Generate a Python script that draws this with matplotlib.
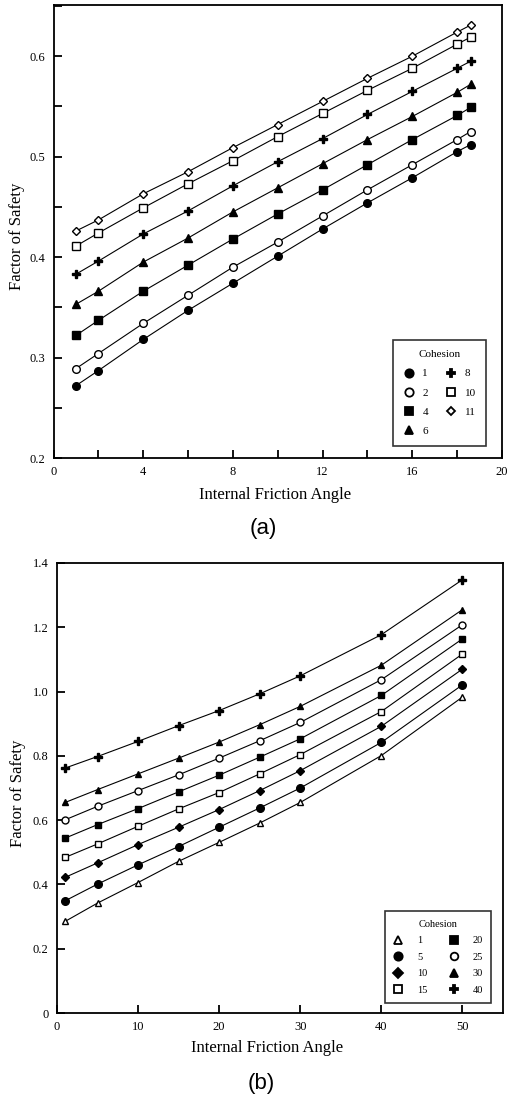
import matplotlib
matplotlib.use("Agg")
import matplotlib.pyplot as plt
from matplotlib.lines import Line2D
from matplotlib.ticker import MultipleLocator, FixedLocator, FixedFormatter

# ---------------- data: panel (a) ----------------
angle_a = [1, 2, 4, 6, 8, 10, 12, 14, 16, 18, 18.6]
cohesion_a = ["1", "2", "4", "6", "8", "10", "11"]
fs_a_c1 = [0.272, 0.287, 0.318, 0.347, 0.374, 0.401, 0.428, 0.454, 0.479, 0.505, 0.512]
fs_a_c2 = [0.289, 0.304, 0.334, 0.362, 0.390, 0.415, 0.441, 0.467, 0.492, 0.517, 0.525]
fs_a_c4 = [0.322, 0.337, 0.366, 0.392, 0.418, 0.443, 0.467, 0.492, 0.517, 0.541, 0.549]
fs_a_c6 = [0.353, 0.366, 0.395, 0.419, 0.445, 0.469, 0.493, 0.517, 0.540, 0.564, 0.572]
fs_a_c8 = [0.383, 0.396, 0.423, 0.446, 0.471, 0.495, 0.518, 0.542, 0.565, 0.588, 0.595]
fs_a_c10 = [0.411, 0.424, 0.449, 0.473, 0.496, 0.520, 0.543, 0.566, 0.588, 0.612, 0.619]
fs_a_c11 = [0.426, 0.437, 0.463, 0.485, 0.509, 0.532, 0.555, 0.578, 0.600, 0.624, 0.631]
series_a = [fs_a_c1, fs_a_c2, fs_a_c4, fs_a_c6, fs_a_c8, fs_a_c10, fs_a_c11]
xticks_a = [0, 4, 8, 12, 16, 20]
yticks_a = [0.2, 0.3, 0.4, 0.5, 0.6]

# ---------------- data: panel (b) ----------------
angle_b = [1, 5, 10, 15, 20, 25, 30, 40, 50]
cohesion_b = ["1", "5", "10", "15", "20", "25", "30", "40"]
fs_b_c1 = [0.285, 0.342, 0.406, 0.472, 0.531, 0.591, 0.655, 0.801, 0.983]
fs_b_c5 = [0.349, 0.401, 0.461, 0.518, 0.578, 0.638, 0.700, 0.842, 1.021]
fs_b_c10 = [0.422, 0.467, 0.524, 0.578, 0.633, 0.692, 0.754, 0.892, 1.070]
fs_b_c15 = [0.484, 0.526, 0.581, 0.635, 0.686, 0.744, 0.804, 0.938, 1.117]
fs_b_c20 = [0.544, 0.586, 0.636, 0.688, 0.740, 0.796, 0.853, 0.988, 1.164]
fs_b_c25 = [0.601, 0.643, 0.692, 0.741, 0.793, 0.847, 0.904, 1.037, 1.208]
fs_b_c30 = [0.655, 0.695, 0.744, 0.793, 0.843, 0.897, 0.954, 1.082, 1.255]
fs_b_c40 = [0.762, 0.798, 0.845, 0.894, 0.941, 0.993, 1.049, 1.177, 1.348]
series_b = [fs_b_c1, fs_b_c5, fs_b_c10, fs_b_c15, fs_b_c20, fs_b_c25, fs_b_c30, fs_b_c40]
xticks_b = [0, 10, 20, 30, 40, 50]
yticks_b = [0, 0.2, 0.4, 0.6, 0.8, 1.0, 1.2, 1.4]
yticklabels_b = ["0", "0.2", "0.4", "0.6", "0.8", "1.0", "1.2", "1.4"]

# ---------------- styles ----------------
# (marker, filled, size)
styles_a = [("o", True, 5.5), ("o", False, 5.5), ("s", True, 5.5), ("^", True, 5.5),
            ("P", True, 5.5), ("s", False, 5.5), ("D", False, 4.0)]
styles_b = [("^", False, 5.0), ("o", True, 5.5), ("D", True, 4.5), ("s", False, 5.0),
            ("s", True, 5.0), ("o", False, 5.0), ("^", True, 5.0), ("P", True, 5.5)]

plt.rcParams["font.family"] = ["Liberation Serif", "DejaVu Serif"]

W, H = 507, 1102
fig = plt.figure(figsize=(W / 100, H / 100), dpi=100)


def px_axes(left, top, right, bottom):
    return fig.add_axes([left / W, 1 - bottom / H, (right - left) / W, (bottom - top) / H])


def style_axes(ax):
    for sp in ax.spines.values():
        sp.set_linewidth(1.3)
        sp.set_color("black")
    ax.tick_params(direction="in", length=6, width=1.3, labelsize=9,
                   top=False, right=False, pad=6)


def draw_series(ax, x, series, styles, labels):
    handles = []
    for ys, (m, filled, ms), lab in zip(series, styles, labels):
        fc = "black" if filled else "white"
        ax.plot(x, ys, color="black", lw=0.8, marker=m, markersize=ms,
                markerfacecolor=fc, markeredgecolor="black", markeredgewidth=1.0,
                zorder=3)
        handles.append(Line2D([], [], linestyle="None", marker=m, markersize=ms + 0.5,
                              markerfacecolor=fc, markeredgecolor="black",
                              markeredgewidth=1.3, label=lab))
    return handles


# ---------------- panel (a) ----------------
ax1 = px_axes(53.5, 5, 502, 458)
h1 = draw_series(ax1, angle_a, series_a, styles_a, cohesion_a)
ax1.set_xlim(0, 20)
ax1.set_ylim(0.2, 0.651)
ax1.xaxis.set_major_locator(FixedLocator(xticks_a))
ax1.xaxis.set_minor_locator(MultipleLocator(2))
ax1.yaxis.set_major_locator(FixedLocator(yticks_a))
ax1.yaxis.set_minor_locator(MultipleLocator(0.05))
ax1.yaxis.set_major_formatter(FixedFormatter([f"{v:.1f}" for v in yticks_a]))
style_axes(ax1)
ax1.tick_params(which="minor", direction="in", length=6, width=1.3, top=False, right=False)
leg1 = ax1.legend(handles=h1, title="Cohesion", ncol=2, loc="lower right",
                  bbox_to_anchor=(0.976, 0.014), frameon=True, fancybox=False,
                  fontsize=8, title_fontsize=8, handlelength=1.0,
                  handletextpad=0.7, columnspacing=1.6, labelspacing=0.85,
                  borderpad=0.9, edgecolor="black")
leg1.get_frame().set_linewidth(1.2)

fig.text(17 / W, 1 - 236 / H, "Factor of Safety", rotation=90, ha="center", va="center",
         fontsize=12)
fig.text(275 / W, 1 - 495 / H, "Internal Friction Angle", ha="center", va="center",
         fontsize=12)
fig.text(263 / W, 1 - 528 / H, "(a)", ha="center", va="center", fontsize=16,
         family=["Liberation Sans", "DejaVu Sans"])

# ---------------- panel (b) ----------------
ax2 = px_axes(57, 563, 503, 1013)
h2 = draw_series(ax2, angle_b, series_b, styles_b, cohesion_b)
ax2.set_xlim(0, 55)
ax2.set_ylim(0, 1.4)
ax2.xaxis.set_major_locator(FixedLocator(xticks_b))
ax2.yaxis.set_major_locator(FixedLocator(yticks_b))
ax2.yaxis.set_major_formatter(FixedFormatter(yticklabels_b))
style_axes(ax2)
leg2 = ax2.legend(handles=h2, title="Cohesion", ncol=2, loc="lower right",
                  bbox_to_anchor=(0.985, 0.01), frameon=True, fancybox=False,
                  fontsize=7.5, title_fontsize=7.5, handlelength=1.0,
                  handletextpad=1.3, columnspacing=2.0, labelspacing=0.7,
                  borderpad=0.8, edgecolor="black")
leg2.get_frame().set_linewidth(1.2)

fig.text(18 / W, 1 - 793 / H, "Factor of Safety", rotation=90, ha="center", va="center",
         fontsize=12)
fig.text(267 / W, 1 - 1048 / H, "Internal Friction Angle", ha="center", va="center",
         fontsize=12)
fig.text(261 / W, 1 - 1084 / H, "(b)", ha="center", va="center", fontsize=16,
         family=["Liberation Sans", "DejaVu Sans"])

fig.savefig("out.png", dpi=100)
